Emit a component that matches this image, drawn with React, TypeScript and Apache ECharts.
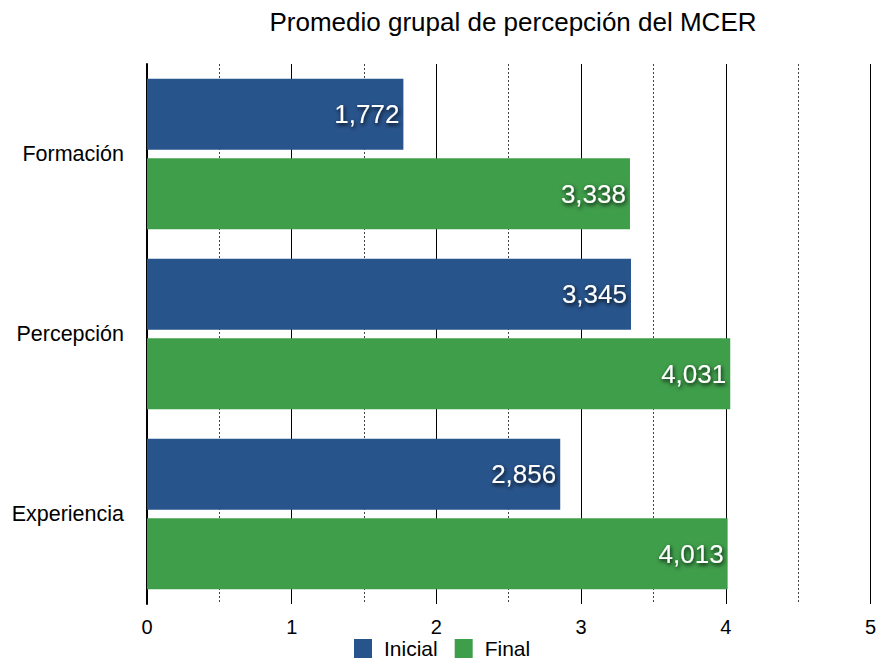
import React, { useEffect, useRef } from "react";
import * as echarts from "echarts";

const categories = ["Formación", "Percepción", "Experiencia"];
const inicial = [1.772, 3.345, 2.856];
const final = [3.338, 4.031, 4.013];
const seriesNames = ["Inicial", "Final"];

const fmt = (v: number) => v.toFixed(3).replace(".", ",");
const FONT = "Liberation Sans, Arial, sans-serif";

export default function App() {
  const ref = useRef<HTMLDivElement>(null);
  useEffect(() => {
    if (!ref.current) return;
    const chart = echarts.init(ref.current, undefined, { renderer: "svg" });
    const labelStyle = {
      show: true,
      position: "insideRight" as const,
      distance: 4,
      color: "#fff",
      fontSize: 26,
      fontFamily: FONT,
      textShadowColor: "rgba(0,0,0,0.9)",
      textShadowBlur: 4,
      textShadowOffsetX: 1,
      textShadowOffsetY: 2,
      formatter: (p: any) => fmt(p.value),
    };
    chart.setOption({
      animation: false,
      title: {
        text: "Promedio grupal de percepción del MCER",
        left: 508,
        top: 4,
        textAlign: "center",
        textStyle: {
          fontSize: 26,
          fontWeight: "normal",
          color: "#000",
          fontFamily: FONT,
        },
      },
      legend: {
        data: seriesNames,
        top: 638,
        left: 354,
        padding: 0,
        itemWidth: 18,
        itemHeight: 19,
        itemGap: 17,
        icon: "rect",
        textStyle: {
          fontSize: 21,
          lineHeight: 19,
          color: "#000",
          fontFamily: FONT,
          padding: [0, 0, 0, 7],
        },
      },
      grid: { left: 147, right: 7, top: 64, bottom: 55, containLabel: false },
      xAxis: {
        type: "value",
        min: 0,
        max: 5,
        interval: 1,
        axisLine: { show: false },
        axisTick: { show: false },
        axisLabel: {
          color: "#000",
          fontSize: 20,
          margin: 13,
          fontFamily: FONT,
        },
        splitLine: { show: true, lineStyle: { color: "#000", width: 1 } },
        minorTick: { show: false, splitNumber: 2 },
        minorSplitLine: { show: true, lineStyle: { color: "#444", type: [2, 2], width: 1 } },
      },
      yAxis: {
        type: "category",
        data: categories,
        inverse: true,
        axisLine: { show: true, lineStyle: { color: "#000", width: 2 } },
        axisTick: { show: false },
        axisLabel: {
          color: "#000",
          fontSize: 21.5,
          margin: 23,
          fontFamily: FONT,
        },
      },
      series: [
        {
          name: seriesNames[0],
          type: "bar",
          data: inicial,
          barWidth: 71,
          barGap: "12%",
          itemStyle: { color: "#28548c" },
          label: labelStyle,
        },
        {
          name: seriesNames[1],
          type: "bar",
          data: final,
          barWidth: 71,
          barGap: "12%",
          itemStyle: { color: "#3f9e4a" },
          label: labelStyle,
        },
      ],
    });
    return () => chart.dispose();
  }, []);
  return <div ref={ref} style={{ width: 879, height: 659, position: "absolute", left: 0, top: 0 }} />;
}
